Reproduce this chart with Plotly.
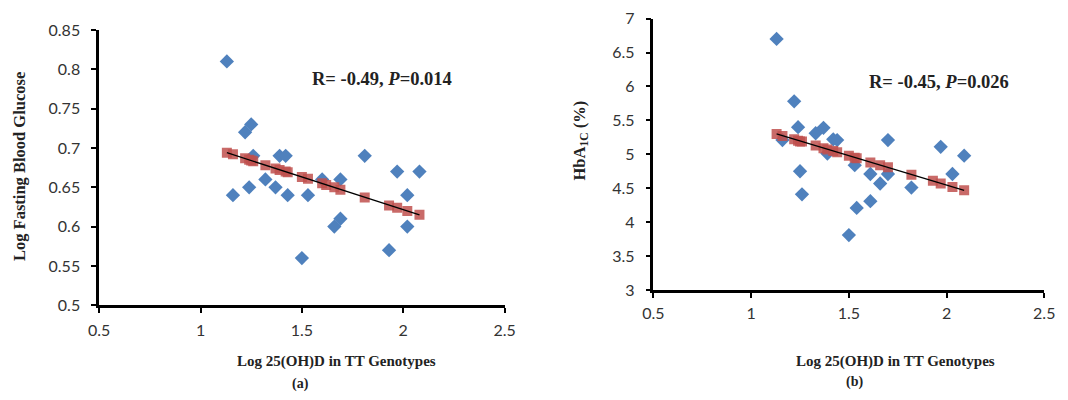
import plotly.graph_objects as go

# ---------- Data ----------
# Panel (a): Log fasting blood glucose vs Log 25(OH)D
a_x = [1.13, 1.16, 1.22, 1.25, 1.24, 1.26, 1.32, 1.37, 1.39, 1.42, 1.43, 1.50,
       1.53, 1.60, 1.66, 1.69, 1.69, 1.81, 1.93, 1.97, 2.02, 2.02, 2.08]
a_y = [0.81, 0.64, 0.72, 0.73, 0.65, 0.69, 0.66, 0.65, 0.69, 0.69, 0.64, 0.56,
       0.64, 0.66, 0.60, 0.66, 0.61, 0.69, 0.57, 0.67, 0.64, 0.60, 0.67]
a_fit_x = [1.13, 1.16, 1.22, 1.24, 1.25, 1.26, 1.32, 1.37, 1.39, 1.42, 1.43, 1.50,
           1.53, 1.60, 1.62, 1.66, 1.69, 1.81, 1.93, 1.97, 2.02, 2.08]
a_fit_y = [0.694, 0.692, 0.687, 0.685, 0.684, 0.683, 0.678, 0.674, 0.672, 0.670, 0.669, 0.663,
           0.661, 0.655, 0.653, 0.650, 0.647, 0.637, 0.627, 0.624, 0.620, 0.615]

# Panel (b): HbA1c vs Log 25(OH)D
b_x = [1.13, 1.16, 1.22, 1.24, 1.25, 1.26, 1.33, 1.37, 1.39, 1.42, 1.44, 1.50,
       1.53, 1.54, 1.61, 1.61, 1.66, 1.70, 1.70, 1.82, 1.97, 2.03, 2.09]
b_y = [6.70, 5.21, 5.78, 5.40, 4.75, 4.41, 5.31, 5.39, 5.01, 5.22, 5.21, 3.81,
       4.84, 4.21, 4.31, 4.71, 4.57, 5.21, 4.71, 4.51, 5.11, 4.71, 4.98]
b_fit_x = [1.13, 1.16, 1.22, 1.24, 1.25, 1.26, 1.33, 1.37, 1.39, 1.42, 1.44, 1.50,
           1.53, 1.54, 1.61, 1.66, 1.70, 1.82, 1.93, 1.97, 2.03, 2.09]
b_fit_y = [5.30, 5.27, 5.22, 5.20, 5.19, 5.19, 5.13, 5.09, 5.07, 5.05, 5.03, 4.98,
           4.95, 4.94, 4.88, 4.84, 4.81, 4.70, 4.61, 4.57, 4.52, 4.47]

x_ticks = [0.5, 1, 1.5, 2, 2.5]
x_tick_text = ["0.5", "1", "1.5", "2", "2.5"]
a_y_ticks = [0.5, 0.55, 0.6, 0.65, 0.7, 0.75, 0.8, 0.85]
a_y_tick_text = ["0.5", "0.55", "0.6", "0.65", "0.7", "0.75", "0.8", "0.85"]
b_y_ticks = [3, 3.5, 4, 4.5, 5, 5.5, 6, 6.5, 7]
b_y_tick_text = ["3", "3.5", "4", "4.5", "5", "5.5", "6", "6.5", "7"]

stat_a = "R= -0.49, <i>P</i>=0.014"
stat_b = "R= -0.45, <i>P</i>=0.026"
x_title = "Log 25(OH)D in TT Genotypes"
a_y_title = "Log Fasting Blood Glucose"
b_y_title = "HbA<sub>1C</sub> (%)"

# ---------- Styles ----------
BLUE = "#4F81BD"
RED = "#C0504D"
SERIF = "Liberation Serif, DejaVu Serif, serif"
SANS = "Lato, Open Sans, sans-serif"
TXT = "#222222"

fig = go.Figure()

for xs, ys, fx, fy, xa, ya in [
    (a_x, a_y, a_fit_x, a_fit_y, "x", "y"),
    (b_x, b_y, b_fit_x, b_fit_y, "x2", "y2"),
]:
    fig.add_trace(go.Scatter(x=xs, y=ys, mode="markers", xaxis=xa, yaxis=ya,
                             marker=dict(symbol="diamond", size=11, color=BLUE),
                             showlegend=False, cliponaxis=False))
    fig.add_trace(go.Scatter(x=fx, y=fy, mode="markers", xaxis=xa, yaxis=ya,
                             marker=dict(symbol="square", size=10, color=RED, opacity=0.85),
                             showlegend=False))
    fig.add_trace(go.Scatter(x=[fx[0], fx[-1]], y=[fy[0], fy[-1]], mode="lines",
                             xaxis=xa, yaxis=ya,
                             line=dict(color="black", width=1.3),
                             showlegend=False))

W, H = 1068, 400


def px_x(p):
    return p / W


def px_y(p):
    return 1 - p / H


def axis_common():
    return dict(showline=True, linecolor="black", linewidth=2.5, showgrid=False,
                zeroline=False, ticks="outside", ticklen=5, tickwidth=2,
                tickcolor="black", tickmode="array",
                tickfont=dict(family=SANS, size=16, color="#333333"))


xa1 = axis_common(); xa1.update(domain=[px_x(90), px_x(504)], range=[0.5, 2.5],
                                tickvals=x_ticks, ticktext=x_tick_text, anchor="y",
                                ticklabelstandoff=4)
ya1 = axis_common(); ya1.update(domain=[px_y(310), px_y(21)], range=[0.5, 0.85],
                                tickvals=a_y_ticks, ticktext=a_y_tick_text, anchor="x",
                                ticklabelstandoff=8)
xa2 = axis_common(); xa2.update(domain=[px_x(656), px_x(1055)], range=[0.5, 2.5],
                                tickvals=x_ticks, ticktext=x_tick_text, anchor="y2",
                                ticklabelstandoff=2)
ya2 = axis_common(); ya2.update(domain=[px_y(294), px_y(9)], range=[3, 7],
                                tickvals=b_y_ticks, ticktext=b_y_tick_text, anchor="x2",
                                ticklabelstandoff=8)


def ann(text, x, y, size=15, angle=0):
    return dict(text=text, x=px_x(x), y=px_y(y), xref="paper", yref="paper",
                showarrow=False, textangle=angle, xanchor="center", yanchor="middle",
                font=dict(family=SERIF, size=size, color=TXT))


annotations = [
    ann("<b>" + stat_a + "</b>", 379, 72, 18.5),
    ann("<b>" + stat_b + "</b>", 948, 76, 18.5),
    ann("<b>" + x_title + "</b>", 332, 369, 15),
    ann("<b>" + x_title + "</b>", 903, 369, 15),
    ann("<b>(a)</b>", 296, 393, 14),
    ann("<b>(b)</b>", 861, 391, 14),
    ann("<b>" + a_y_title + "</b>", 8, 164, 16.5, -90),
    ann("<b>" + b_y_title + "</b>", 581, 137, 16.5, -90),
]

fig.update_layout(
    width=W, height=H,
    margin=dict(l=0, r=0, t=0, b=0),
    paper_bgcolor="white", plot_bgcolor="white",
    xaxis=xa1, yaxis=ya1, xaxis2=xa2, yaxis2=ya2,
    annotations=annotations,
    showlegend=False,
)

# remove the browser's default 8px body margin so the figure sits at (0, 0)
fig.write_html("out.html", config={"displayModeBar": False},
               post_script="document.body.style.margin='0';")
